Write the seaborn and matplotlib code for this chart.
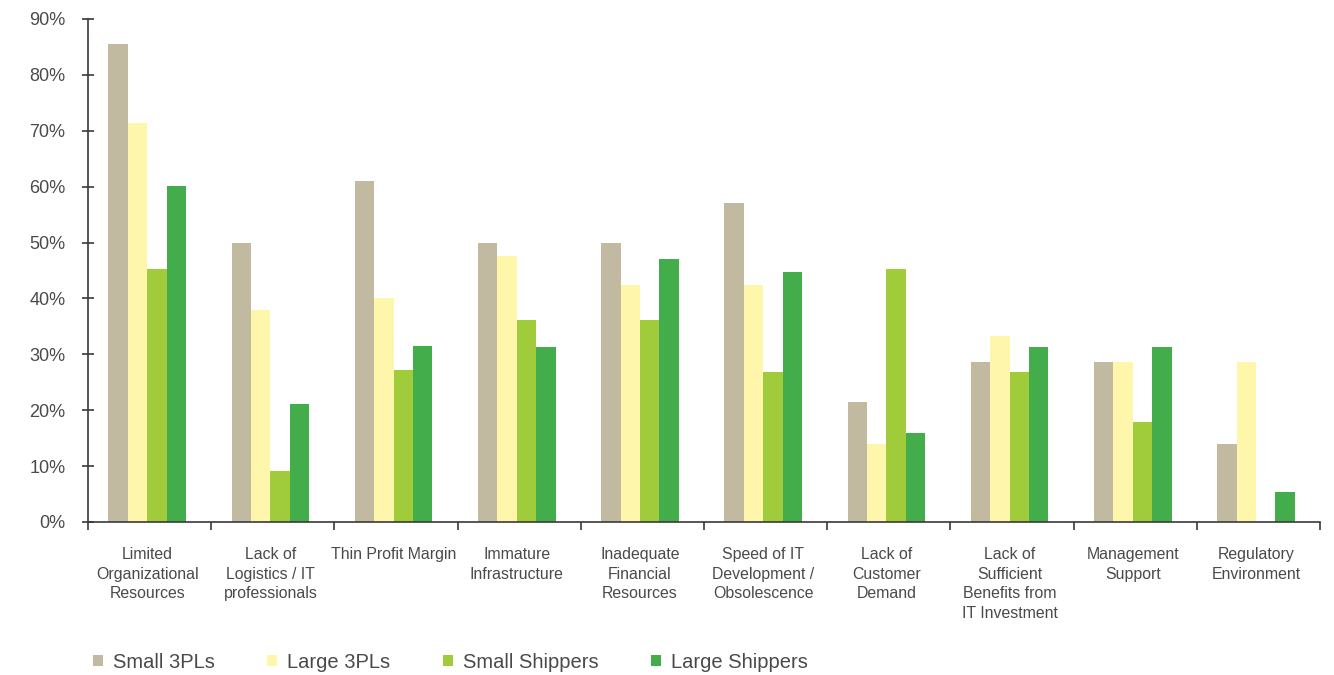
import pandas as pd
import matplotlib.pyplot as plt
import seaborn as sns
from matplotlib.patches import Patch
from matplotlib.ticker import FixedLocator, PercentFormatter

# Barriers to IT adoption, share of respondents (%)
categories = [
    'Limited\nOrganizational\nResources',
    'Lack of\nLogistics / IT\nprofessionals',
    'Thin Profit Margin',
    'Immature\nInfrastructure',
    'Inadequate\nFinancial\nResources',
    'Speed of IT\nDevelopment /\nObsolescence',
    'Lack of\nCustomer\nDemand',
    'Lack of\nSufficient\nBenefits from\nIT Investment',
    'Management\nSupport',
    'Regulatory\nEnvironment',
]
groups = ['Small 3PLs', 'Large 3PLs', 'Small Shippers', 'Large Shippers']
small_3pls = [85.5, 50.0, 61.0, 50.0, 50.0, 57.0, 21.5, 28.6, 28.6, 14.0]
large_3pls = [71.4, 38.0, 40.0, 47.6, 42.4, 42.4, 14.0, 33.3, 28.6, 28.6]
small_shippers = [45.2, 9.1, 27.2, 36.1, 36.1, 26.8, 45.2, 26.8, 17.9, 0.0]
large_shippers = [60.1, 21.1, 31.5, 31.3, 47.0, 44.7, 15.9, 31.3, 31.3, 5.4]
colors = ['#C2B9A1', '#FEF7AB', '#A0CB3A', '#42AD4A']

TEXT = '#4a4a4a'
AXIS = '#3a3a3a'


def build_frame():
    """Long-form table for seaborn"""
    series = [small_3pls, large_3pls, small_shippers, large_shippers]
    rows = []
    for g, vals in zip(groups, series):
        for c, v in zip(categories, vals):
            rows.append({'Barrier': c, 'Group': g, 'Share': v})
    return pd.DataFrame(rows)


def plot_barriers(df):
    sns.set_style('white')
    plt.rcParams['font.family'] = ['Liberation Sans', 'DejaVu Sans']

    fig = plt.figure(figsize=(13.34, 6.75), dpi=100)
    ax = fig.add_axes([0.066, 0.2267, 0.9235, 0.7452])

    sns.barplot(data=df, x='Barrier', y='Share', hue='Group', order=categories,
                hue_order=groups, palette=colors, width=0.63, saturation=1,
                edgecolor='none', linewidth=0, legend=False, ax=ax)

    ax.set_xlim(-0.48, len(categories) - 0.48)
    ax.set_ylim(0, 90)
    ax.set_yticks(range(0, 91, 10))
    ax.yaxis.set_major_formatter(PercentFormatter(decimals=0))
    ax.set_xlabel('')
    ax.set_ylabel('')

    # spines
    for s in ['top', 'right']:
        ax.spines[s].set_visible(False)
    for s in ['left', 'bottom']:
        ax.spines[s].set_color(AXIS)
        ax.spines[s].set_linewidth(1.2)

    # category separators on the x axis
    ax.xaxis.set_minor_locator(FixedLocator([i - 0.48 for i in range(len(categories) + 1)]))
    ax.tick_params(axis='x', which='major', length=0, pad=18, labelsize=11.4, labelcolor=TEXT)
    ax.tick_params(axis='x', which='minor', bottom=True, length=6, width=1.2,
                   direction='out', color=AXIS)
    ax.tick_params(axis='y', which='major', left=True, length=8.5, width=1.2,
                   direction='inout', color=AXIS, labelsize=13, labelcolor=TEXT, pad=12)
    for lbl in ax.get_xticklabels():
        lbl.set_verticalalignment('top')
        lbl.set_linespacing(1.38)

    handles = [Patch(facecolor=c, edgecolor='none', label=g) for g, c in zip(groups, colors)]
    fig.legend(handles=handles, loc='center left', bbox_to_anchor=(0.056, 13 / 675),
               ncol=4, frameon=False, fontsize=14.5, handlelength=0.5, handleheight=0.5,
               handletextpad=0.5, columnspacing=2.6, labelcolor=TEXT,
               bbox_transform=fig.transFigure)

    plt.savefig('out.png', dpi=100)
    plt.close()


def main():
    df = build_frame()
    plot_barriers(df)


if __name__ == "__main__":
    main()
